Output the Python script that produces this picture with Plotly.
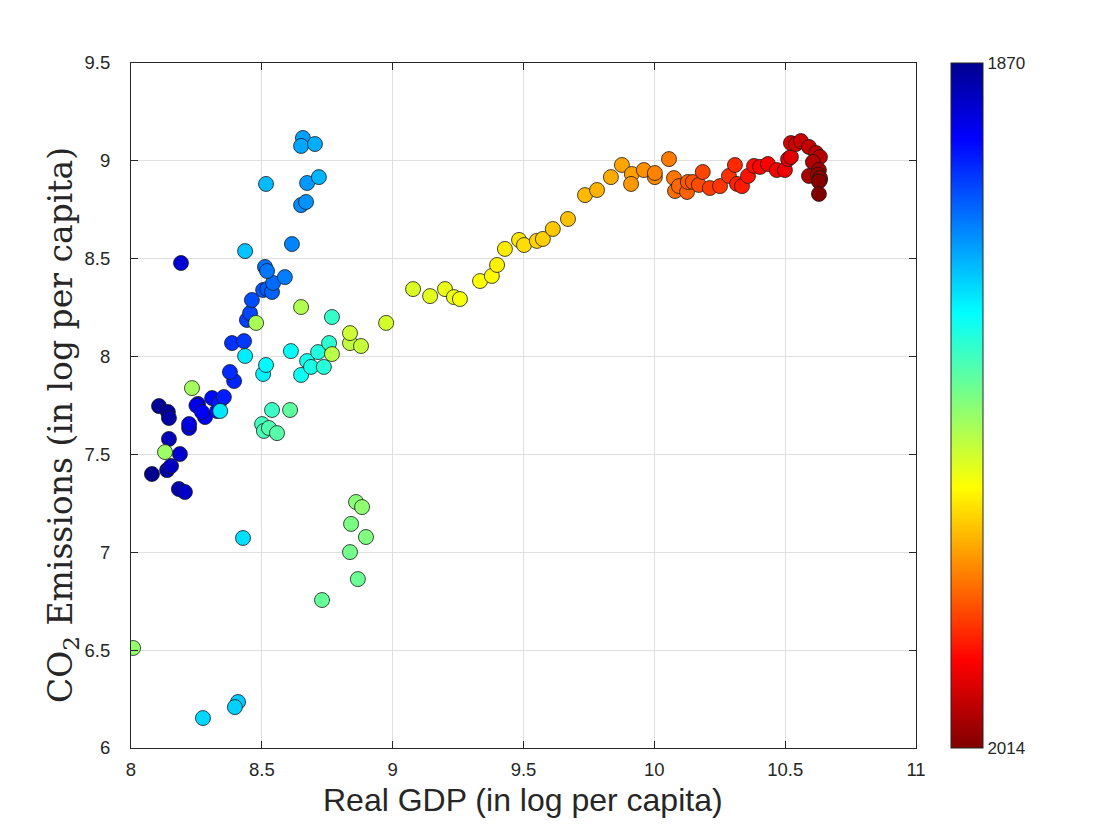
import plotly.graph_objects as go

# Data (one point per year)
years = list(range(1870, 2015))

gdp = [
    8.080, 8.107, 8.141, 8.145, 8.138, 8.183, 8.145, 8.153, 8.206, 8.187,
    8.191, 8.222, 8.222, 8.256, 8.250, 8.283, 8.271, 8.310, 8.329, 8.336,
    8.355, 8.394, 8.378, 8.386, 8.432, 8.443, 8.455, 8.462, 8.505, 8.521,
    8.539, 8.543, 8.512, 8.520, 8.588, 8.615, 8.650, 8.669, 8.673, 8.657,
    8.650, 8.703, 8.718, 8.516, 8.436, 8.409, 8.397, 8.275, 8.428, 8.341,
    8.436, 8.505, 8.516, 8.611, 8.650, 8.673, 8.688, 8.715, 8.737, 8.757,
    8.768, 8.539, 8.501, 8.508, 8.527, 8.558, 8.608, 8.730, 8.867, 8.837,
    8.841, 8.898, 8.860, 8.883, 8.008, 8.130, 8.233, 8.478, 8.650, 8.768,
    8.837, 8.879, 8.837, 8.975, 9.078, 9.143, 9.200, 9.234, 9.257, 9.334,
    9.379, 9.399, 9.429, 9.483, 9.502, 9.551, 9.574, 9.612, 9.670, 9.735,
    9.781, 9.834, 9.876, 9.914, 9.911, 9.960, 10.002, 10.002, 10.056, 10.075,
    10.079, 10.094, 10.125, 10.128, 10.147, 10.170, 10.185, 10.212, 10.251, 10.285,
    10.308, 10.316, 10.335, 10.358, 10.381, 10.404, 10.434, 10.468, 10.499, 10.511,
    10.522, 10.522, 10.541, 10.560, 10.591, 10.618, 10.633, 10.606, 10.591, 10.629,
    10.633, 10.625, 10.633, 10.629, 10.629,
]

co2 = [
    7.400, 7.747, 7.717, 7.686, 7.420, 7.323, 7.579, 7.441, 7.308, 7.502,
    8.478, 7.635, 7.655, 7.758, 7.750, 7.691, 7.717, 7.788, 7.722, 7.763,
    7.793, 7.875, 7.921, 8.069, 8.079, 8.187, 8.222, 8.289, 8.340, 8.345,
    8.330, 8.376, 8.458, 8.437, 8.406, 8.575, 8.774, 8.790, 8.887, 9.117,
    9.076, 9.086, 8.917, 8.882, 8.539, 6.235, 6.209, 6.153, 7.073, 7.722,
    8.003, 7.911, 7.957, 8.028, 7.906, 7.977, 7.947, 8.023, 7.947, 8.069,
    8.202, 7.727, 7.655, 7.620, 7.635, 7.609, 7.727, 6.756, 6.863, 7.001,
    7.145, 7.078, 7.257, 7.231, 6.511, 7.512, 7.839, 8.172, 8.253, 8.013,
    8.069, 8.054, 8.120, 8.172, 8.345, 8.309, 8.345, 8.304, 8.294, 8.386,
    8.412, 8.468, 8.550, 8.596, 8.570, 8.591, 8.601, 8.652, 8.703, 8.825,
    8.851, 8.917, 8.979, 8.933, 8.882, 8.953, 8.917, 8.938, 9.009, 8.912,
    8.846, 8.871, 8.841, 8.892, 8.892, 8.877, 8.943, 8.861, 8.871, 8.923,
    8.979, 8.882, 8.871, 8.923, 8.974, 8.969, 8.984, 8.953, 8.953, 9.009,
    9.020, 9.091, 9.086, 9.101, 9.071, 9.040, 9.020, 8.994, 8.923, 8.953,
    8.902, 8.930, 8.912, 8.895, 8.831,
]

x_ticks = [8, 8.5, 9, 9.5, 10, 10.5, 11]
x_tick_labels = ["8", "8.5", "9", "9.5", "10", "10.5", "11"]
y_ticks = [6, 6.5, 7, 7.5, 8, 8.5, 9, 9.5]
y_tick_labels = ["6", "6.5", "7", "7.5", "8", "8.5", "9", "9.5"]
cbar_labels = ["1870", "2014"]
x_title = "Real GDP (in log per capita)"
y_title = "CO<sub>2</sub> Emissions (in log per capita)"

# MATLAB "jet", reversed so that the colourbar reads 1870 at top
jet = [
    [0.0, "rgb(128,0,0)"],
    [0.127, "rgb(255,0,0)"],
    [0.381, "rgb(255,255,0)"],
    [0.635, "rgb(0,255,255)"],
    [0.889, "rgb(0,0,255)"],
    [1.0, "rgb(0,0,143)"],
]
neg_years = [-y for y in years]

fig = go.Figure()
fig.add_trace(go.Scatter(
    x=gdp, y=co2, mode="markers",
    marker=dict(
        size=15, color=neg_years, colorscale=jet,
        cmin=-2014, cmax=-1870,
        line=dict(color="#1a1a1a", width=0.8),
        colorbar=dict(
            x=1.0446, xanchor="left", xref="paper",
            y=0, yanchor="bottom", yref="paper", len=1, lenmode="fraction",
            thickness=32, thicknessmode="pixels",
            outlinecolor="#262626", outlinewidth=1,
            tickvals=[-1870, -2014], ticktext=cbar_labels,
            ticks="", tickfont=dict(family="Liberation Sans, Arial", size=17, color="#262626"),
            ypad=0, xpad=0,
        ),
    ),
    hovertemplate="GDP %{x}<br>CO2 %{y}<extra></extra>",
))

axis_common = dict(
    showline=True, linecolor="#262626", linewidth=1, mirror="ticks",
    ticks="inside", ticklen=7, tickcolor="#262626", tickwidth=1,
    showgrid=True, gridcolor="#dfdfdf", gridwidth=1, zeroline=False,
    tickfont=dict(family="Liberation Sans, Arial", size=18.5, color="#262626"),
    automargin=False,
)

# page body adds an 8px offset, so margins are reduced on the left/top
fig.update_layout(
    width=1120, height=840,
    paper_bgcolor="white", plot_bgcolor="white",
    margin=dict(l=123, r=212, t=55, b=100, autoexpand=False),
    showlegend=False,
    xaxis=dict(range=[8, 11], tickvals=x_ticks, ticktext=x_tick_labels,
               ticklabelstandoff=5, **axis_common),
    yaxis=dict(range=[6, 9.5], tickvals=y_ticks, ticktext=y_tick_labels,
               ticklabelstandoff=16, **axis_common),
    annotations=[
        dict(text=x_title, xref="paper", yref="paper", x=0.4995, y=-0.0759,
             xanchor="center", yanchor="middle", showarrow=False,
             font=dict(family="Liberation Sans, Arial", size=32, color="#262626")),
        dict(text=y_title, xref="paper", yref="paper", x=-0.0879, y=0.4715,
             xanchor="center", yanchor="middle", showarrow=False, textangle=-90,
             font=dict(family="DejaVu Serif, Liberation Serif", size=33, color="#262626")),
    ],
)

fig.write_html("out.html")
